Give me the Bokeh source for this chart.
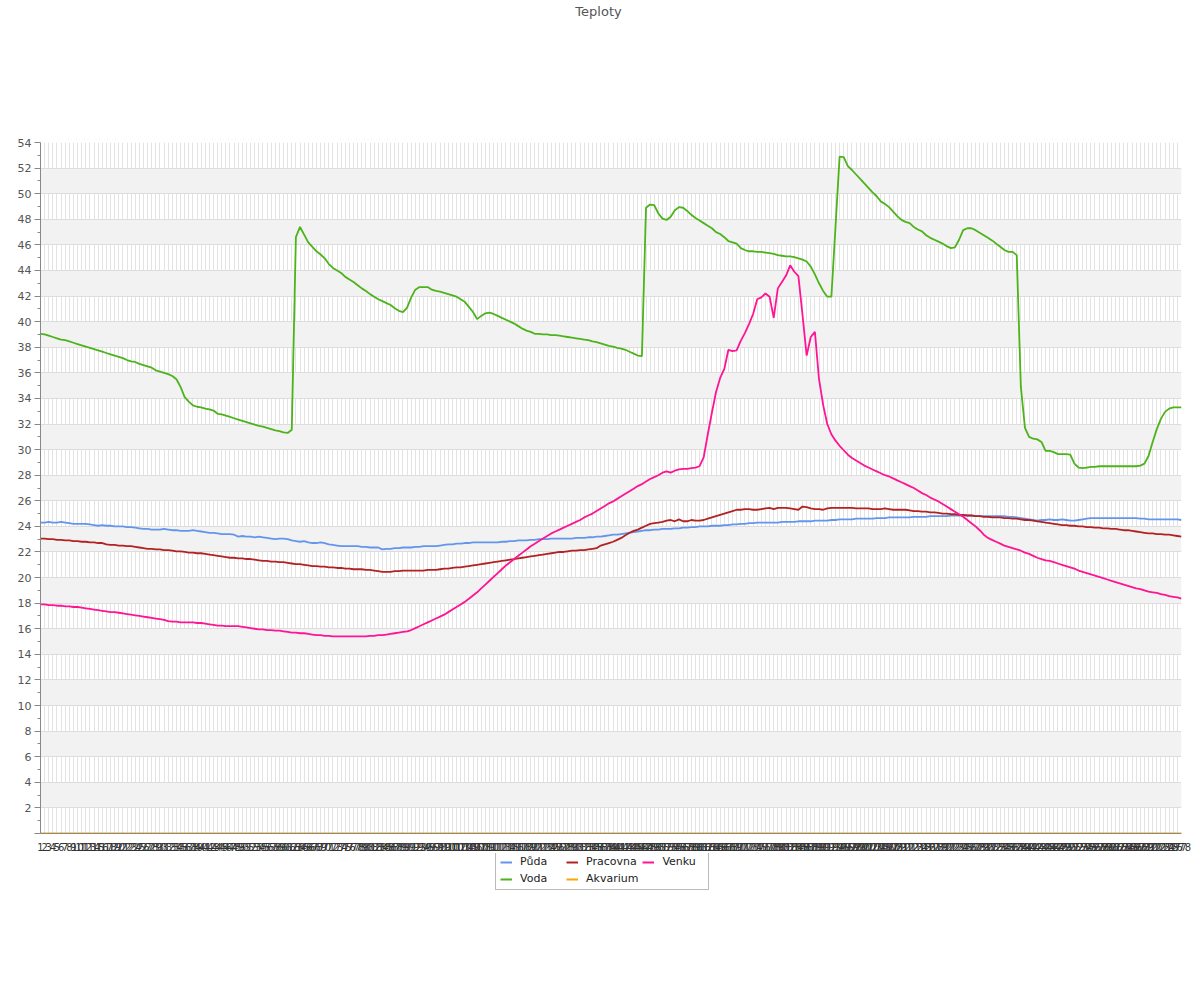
from bokeh.plotting import figure
from bokeh.layouts import column
from bokeh.models import Range1d, FixedTicker, Legend, LegendItem, Label
from bokeh.embed import file_html
from bokeh.resources import INLINE

labels = [str(i) for i in range(1, 279)]

puda = [
    24.3, 24.3, 24.35, 24.3, 24.3, 24.35, 24.3, 24.25, 24.2, 24.2,
    24.2, 24.2, 24.15, 24.1, 24.05, 24.1, 24.05, 24.05, 24.0, 24.0,
    24.0, 23.95, 23.95, 23.9, 23.85, 23.8, 23.8, 23.75, 23.75, 23.75,
    23.8, 23.75, 23.7, 23.7, 23.65, 23.65, 23.65, 23.7, 23.65, 23.6,
    23.55, 23.5, 23.5, 23.45, 23.4, 23.4, 23.4, 23.35, 23.2, 23.25,
    23.2, 23.2, 23.15, 23.2, 23.15, 23.1, 23.05, 23.0, 23.05, 23.05,
    23.0, 22.9, 22.85, 22.8, 22.85, 22.75, 22.7, 22.7, 22.75, 22.7,
    22.6, 22.55, 22.5, 22.45, 22.45, 22.45, 22.45, 22.45, 22.4, 22.4,
    22.35, 22.35, 22.35, 22.2, 22.25, 22.25, 22.3, 22.3, 22.35, 22.35,
    22.35, 22.4, 22.4, 22.45, 22.45, 22.45, 22.45, 22.5, 22.55, 22.6,
    22.6, 22.65, 22.65, 22.7, 22.7, 22.75, 22.75, 22.75, 22.75, 22.75,
    22.75, 22.75, 22.8, 22.8, 22.85, 22.85, 22.9, 22.9, 22.9, 22.95,
    22.95, 23.0, 23.0, 23.0, 23.05, 23.05, 23.05, 23.05, 23.05, 23.05,
    23.1, 23.1, 23.1, 23.15, 23.15, 23.2, 23.2, 23.25, 23.3, 23.35,
    23.35, 23.4, 23.45, 23.5, 23.55, 23.6, 23.65, 23.7, 23.7, 23.75,
    23.75, 23.8, 23.8, 23.8, 23.85, 23.85, 23.9, 23.9, 23.95, 23.95,
    24.0, 24.0, 24.0, 24.05, 24.05, 24.05, 24.1, 24.1, 24.15, 24.15,
    24.2, 24.2, 24.25, 24.25, 24.3, 24.3, 24.3, 24.3, 24.3, 24.3,
    24.35, 24.35, 24.35, 24.35, 24.4, 24.4, 24.4, 24.4, 24.45, 24.45,
    24.45, 24.45, 24.5, 24.5, 24.55, 24.55, 24.55, 24.55, 24.6, 24.6,
    24.6, 24.6, 24.6, 24.65, 24.65, 24.65, 24.7, 24.7, 24.7, 24.7,
    24.7, 24.7, 24.75, 24.75, 24.75, 24.75, 24.8, 24.8, 24.8, 24.8,
    24.8, 24.85, 24.85, 24.85, 24.85, 24.85, 24.85, 24.8, 24.8, 24.8,
    24.8, 24.8, 24.8, 24.8, 24.8, 24.75, 24.75, 24.7, 24.65, 24.6,
    24.55, 24.5, 24.45, 24.5, 24.5, 24.55, 24.5, 24.5, 24.55, 24.5,
    24.45, 24.45, 24.5, 24.55, 24.6, 24.65, 24.65, 24.65, 24.65, 24.65,
    24.65, 24.65, 24.65, 24.65, 24.65, 24.65, 24.65, 24.6, 24.6, 24.55,
    24.55, 24.55, 24.55, 24.55, 24.55, 24.55, 24.55, 24.5,
]

voda = [
    39.05, 39.0, 38.9, 38.8, 38.7, 38.6, 38.55, 38.45, 38.35, 38.25,
    38.15, 38.05, 37.95, 37.85, 37.75, 37.65, 37.55, 37.45, 37.35, 37.25,
    37.15, 37.0, 36.9, 36.85, 36.7, 36.6, 36.5, 36.4, 36.2, 36.1,
    36.0, 35.9, 35.75, 35.5, 34.9, 34.1, 33.75, 33.45, 33.35, 33.3,
    33.2, 33.15, 33.05, 32.8, 32.75, 32.65, 32.55, 32.45, 32.35, 32.25,
    32.15, 32.05, 31.95, 31.85, 31.8, 31.7, 31.6, 31.5, 31.45, 31.35,
    31.3, 31.55, 46.6, 47.4, 46.8, 46.2, 45.85, 45.5, 45.25, 44.95,
    44.5, 44.2, 44.0, 43.8, 43.5, 43.3, 43.1, 42.85, 42.6, 42.4,
    42.15, 41.95, 41.75, 41.6, 41.45, 41.3, 41.05, 40.85, 40.75, 41.1,
    41.9, 42.5, 42.7, 42.7, 42.7, 42.5, 42.4, 42.35, 42.25, 42.15,
    42.05, 41.95, 41.75, 41.55, 41.15, 40.75, 40.2, 40.45, 40.65, 40.7,
    40.6, 40.45, 40.3, 40.15, 40.0, 39.85, 39.65, 39.45, 39.3, 39.2,
    39.05, 39.05, 39.0, 39.0, 38.95, 38.95, 38.9, 38.85, 38.8, 38.75,
    38.7, 38.65, 38.6, 38.55, 38.45, 38.4, 38.3, 38.2, 38.1, 38.05,
    37.95, 37.9, 37.8, 37.65, 37.5, 37.35, 37.3, 48.9, 49.15, 49.1,
    48.45, 48.05, 47.95, 48.2, 48.7, 48.95, 48.9, 48.65, 48.35, 48.1,
    47.9, 47.7, 47.5, 47.3, 47.0, 46.85, 46.6, 46.3, 46.2, 46.1,
    45.75, 45.6, 45.5, 45.5, 45.45, 45.45, 45.4, 45.35, 45.3, 45.2,
    45.15, 45.1, 45.1, 45.05, 44.95, 44.85, 44.7, 44.3, 43.7, 43.0,
    42.4, 41.95, 41.95, 47.4, 52.9, 52.85, 52.15, 51.85, 51.5, 51.15,
    50.8, 50.45, 50.1, 49.8, 49.4, 49.2, 48.95, 48.6, 48.25, 47.95,
    47.8, 47.7, 47.4, 47.2, 47.05, 46.75, 46.55, 46.4, 46.25, 46.1,
    45.9, 45.75, 45.8, 46.4, 47.15, 47.3, 47.3, 47.15, 46.95, 46.75,
    46.55, 46.35, 46.1, 45.85, 45.6, 45.45, 45.45, 45.2, 34.9, 31.7,
    31.0, 30.85, 30.8, 30.6, 29.9, 29.9, 29.8, 29.65, 29.65, 29.65,
    29.6, 28.9, 28.6, 28.55, 28.6, 28.65, 28.65, 28.7, 28.7, 28.7,
    28.7, 28.7, 28.7, 28.7, 28.7, 28.7, 28.7, 28.75, 28.9, 29.5,
    30.6, 31.6, 32.4, 32.95, 33.2, 33.3, 33.3, 33.3,
]

pracovna = [
    23.05, 23.05, 23.0, 23.0, 22.95, 22.95, 22.9, 22.9, 22.85, 22.85,
    22.8, 22.8, 22.75, 22.75, 22.7, 22.7, 22.6, 22.55, 22.55, 22.5,
    22.5, 22.45, 22.45, 22.4, 22.35, 22.3, 22.25, 22.25, 22.2, 22.2,
    22.15, 22.15, 22.1, 22.05, 22.05, 22.0, 21.95, 21.95, 21.9, 21.9,
    21.85, 21.8, 21.75, 21.7, 21.65, 21.6, 21.55, 21.55, 21.5, 21.5,
    21.45, 21.45, 21.4, 21.35, 21.3, 21.3, 21.25, 21.25, 21.2, 21.2,
    21.15, 21.1, 21.05, 21.05, 21.0, 20.95, 20.9, 20.9, 20.85, 20.85,
    20.8, 20.8, 20.75, 20.75, 20.7, 20.7, 20.65, 20.65, 20.65, 20.6,
    20.6, 20.55, 20.5, 20.45, 20.45, 20.45, 20.5, 20.5, 20.55, 20.55,
    20.55, 20.55, 20.55, 20.55, 20.6, 20.6, 20.6, 20.65, 20.7, 20.7,
    20.75, 20.8, 20.8, 20.85, 20.9, 20.95, 21.0, 21.05, 21.1, 21.15,
    21.2, 21.25, 21.3, 21.35, 21.4, 21.45, 21.5, 21.55, 21.6, 21.65,
    21.7, 21.75, 21.8, 21.85, 21.9, 21.95, 22.0, 22.0, 22.05, 22.1,
    22.1, 22.15, 22.15, 22.2, 22.25, 22.3, 22.5, 22.6, 22.7, 22.8,
    22.95, 23.1, 23.3, 23.5, 23.65, 23.75, 23.9, 24.05, 24.2, 24.25,
    24.3, 24.35, 24.45, 24.5, 24.4, 24.55, 24.4, 24.4, 24.5, 24.45,
    24.45, 24.5, 24.6, 24.7, 24.8, 24.9, 25.0, 25.1, 25.2, 25.3,
    25.3, 25.35, 25.35, 25.3, 25.3, 25.35, 25.4, 25.45, 25.35, 25.45,
    25.45, 25.45, 25.4, 25.35, 25.3, 25.55, 25.5, 25.4, 25.35, 25.35,
    25.3, 25.4, 25.45, 25.45, 25.45, 25.45, 25.45, 25.45, 25.4, 25.4,
    25.4, 25.4, 25.35, 25.35, 25.35, 25.4, 25.35, 25.3, 25.3, 25.3,
    25.3, 25.25, 25.2, 25.2, 25.15, 25.15, 25.1, 25.1, 25.05, 25.0,
    25.0, 24.95, 24.95, 24.9, 24.9, 24.85, 24.85, 24.8, 24.8, 24.75,
    24.75, 24.7, 24.7, 24.7, 24.65, 24.65, 24.6, 24.6, 24.55, 24.5,
    24.5, 24.45, 24.4, 24.35, 24.3, 24.25, 24.2, 24.15, 24.1, 24.1,
    24.05, 24.05, 24.0, 24.0, 23.95, 23.95, 23.9, 23.9, 23.85, 23.85,
    23.8, 23.8, 23.75, 23.7, 23.7, 23.65, 23.6, 23.55, 23.5, 23.45,
    23.45, 23.4, 23.4, 23.35, 23.35, 23.3, 23.25, 23.2,
]

akvarium = [0.0] * 278

venku = [
    17.9, 17.9, 17.85, 17.85, 17.8, 17.8, 17.75, 17.75, 17.7, 17.7,
    17.65, 17.6, 17.55, 17.5, 17.45, 17.4, 17.35, 17.3, 17.3, 17.25,
    17.2, 17.15, 17.1, 17.05, 17.0, 16.95, 16.9, 16.85, 16.8, 16.75,
    16.7, 16.6, 16.55, 16.55, 16.5, 16.5, 16.5, 16.5, 16.45, 16.45,
    16.4, 16.35, 16.3, 16.25, 16.25, 16.2, 16.2, 16.2, 16.2, 16.15,
    16.1, 16.05, 16.0, 15.95, 15.95, 15.9, 15.9, 15.85, 15.85, 15.8,
    15.75, 15.7, 15.7, 15.65, 15.65, 15.6, 15.55, 15.5, 15.5, 15.45,
    15.45, 15.4, 15.4, 15.4, 15.4, 15.4, 15.4, 15.4, 15.4, 15.4,
    15.45, 15.45, 15.5, 15.5, 15.55, 15.6, 15.65, 15.7, 15.75, 15.8,
    15.9, 16.05, 16.2, 16.35, 16.5, 16.65, 16.8, 16.95, 17.1, 17.3,
    17.5, 17.7, 17.9, 18.1, 18.35, 18.6, 18.85, 19.15, 19.45, 19.75,
    20.05, 20.35, 20.65, 20.95, 21.2, 21.45, 21.7, 21.95, 22.2, 22.45,
    22.65, 22.85, 23.05, 23.25, 23.45, 23.6, 23.75, 23.9, 24.05, 24.2,
    24.35, 24.5, 24.7, 24.85, 25.0, 25.2, 25.4, 25.6, 25.8, 25.95,
    26.15, 26.35, 26.55, 26.75, 26.95, 27.15, 27.3, 27.5, 27.7, 27.85,
    28.0, 28.2, 28.3, 28.2, 28.35, 28.45, 28.5, 28.5, 28.55, 28.6,
    28.7, 29.4, 31.2, 32.9, 34.5, 35.6, 36.3, 37.8, 37.7, 37.75,
    38.5, 39.1, 39.8, 40.6, 41.75, 41.9, 42.2, 41.95, 40.3, 42.6,
    43.1, 43.6, 44.4, 43.9, 43.55, 40.5, 37.35, 38.8, 39.2, 35.5,
    33.5, 32.0, 31.2, 30.7, 30.3, 29.95, 29.6, 29.35, 29.15, 28.95,
    28.75, 28.6, 28.45, 28.3, 28.15, 28.0, 27.9, 27.75, 27.6, 27.45,
    27.3, 27.15, 27.0, 26.8, 26.6, 26.45, 26.25, 26.1, 25.95, 25.75,
    25.55, 25.35, 25.15, 24.95, 24.75, 24.5, 24.25, 24.0, 23.7, 23.35,
    23.1, 22.95, 22.8, 22.65, 22.5, 22.4, 22.3, 22.2, 22.1, 21.95,
    21.85, 21.7, 21.55, 21.45, 21.35, 21.3, 21.2, 21.1, 21.0, 20.9,
    20.8, 20.7, 20.55, 20.45, 20.35, 20.25, 20.15, 20.05, 19.95, 19.85,
    19.75, 19.65, 19.55, 19.45, 19.35, 19.25, 19.15, 19.1, 19.0, 18.9,
    18.85, 18.8, 18.7, 18.65, 18.55, 18.5, 18.45, 18.35,
]

title_text = "Teploty"
series_names = ["Půda", "Voda", "Pracovna", "Akvarium", "Venku"]
series_values = [puda, voda, pracovna, akvarium, venku]
series_colors = ["#6495ed", "#4cb31a", "#b22222", "#ffa500", "#ff1493"]

y_ticks = list(range(0, 56, 2))
y_minor = list(range(1, 54, 2))

x = list(range(len(labels)))

FONT = "DejaVu Sans"

# ---- title strip (frame is aligned with the chart frame, starting at x=40) ----
tf = figure(width=1200, height=24, output_backend="svg", toolbar_location=None,
            x_range=Range1d(0, 1), y_range=Range1d(0, 1),
            x_axis_location=None, y_axis_location=None,
            min_border=0, border_fill_color="white")
tf.outline_line_color = None
tf.grid.visible = False
tf.add_layout(Label(x=558, y=13, x_units="screen", y_units="screen",
                    text=title_text, text_align="center", text_baseline="middle",
                    text_font=FONT, text_font_size="13px", text_color="#555555"))

# ---- main chart ----
p = figure(frame_width=1141, frame_height=691, output_backend="svg",
           toolbar_location=None,
           x_range=Range1d(0, len(labels) - 1), y_range=Range1d(0, 54),
           min_border_left=40, min_border_right=19, min_border_top=118,
           min_border_bottom=18, background_fill_color="white",
           border_fill_color="white")
p.outline_line_color = None

p.xaxis.ticker = FixedTicker(ticks=x)
p.xaxis.major_label_overrides = {i: labels[i] for i in x}
p.xaxis.major_label_text_font = FONT
p.xaxis.major_label_text_font_size = "10px"
p.xaxis.major_label_text_color = "#333333"
p.xaxis.major_tick_line_color = None
p.xaxis.minor_tick_line_color = None
p.xaxis.major_label_standoff = 3
p.xaxis.axis_line_color = "#888888"

p.yaxis.ticker = FixedTicker(ticks=y_ticks, minor_ticks=y_minor)
p.yaxis.major_label_overrides = {0: ""}
p.yaxis.major_label_text_font = FONT
p.yaxis.major_label_text_font_size = "11px"
p.yaxis.major_label_text_color = "#555555"
p.yaxis.axis_line_color = "#888888"
p.yaxis.major_tick_line_color = "#888888"
p.yaxis.minor_tick_line_color = "#888888"
p.yaxis.major_tick_out = 6
p.yaxis.major_tick_in = 0
p.yaxis.minor_tick_out = 3
p.yaxis.minor_tick_in = 0
p.yaxis.major_label_standoff = 3

p.xgrid.ticker = FixedTicker(ticks=x)
p.xgrid.grid_line_color = "#e3e3e3"
p.xgrid.grid_line_width = 1
p.ygrid.ticker = FixedTicker(ticks=y_ticks)
p.ygrid.grid_line_color = "#dddddd"
p.ygrid.grid_line_width = 1
p.ygrid.band_fill_color = "#f2f2f2"
p.ygrid.band_fill_alpha = 1.0

for vals, col in zip(series_values, series_colors):
    p.line(x, vals, line_color=col, line_width=1.8)

# ---- legend strip: same series drawn out of view, only the legend shows ----
lf = figure(width=1200, height=60, output_backend="svg", toolbar_location=None,
            x_range=Range1d(0, 1), y_range=Range1d(100, 101),
            x_axis_location=None, y_axis_location=None,
            min_border=0, border_fill_color="white")
lf.outline_line_color = None
lf.grid.visible = False
items = []
for name, vals, col in zip(series_names, series_values, series_colors):
    r = lf.line(x, vals, line_color=col, line_width=2)
    items.append(LegendItem(label=name, renderers=[r]))

legend = Legend(items=items, location=(455, 23), orientation="vertical", nrows=2)
legend.label_text_font = FONT
legend.label_text_font_size = "11px"
legend.label_text_color = "#222222"
legend.glyph_width = 12
legend.glyph_height = 12
legend.label_height = 12
legend.label_width = 42
legend.label_standoff = 8
legend.spacing = 4
legend.padding = 4
legend.margin = 0
legend.border_line_color = "#777777"
legend.border_line_width = 1
legend.background_fill_color = "white"
legend.background_fill_alpha = 1.0
lf.add_layout(legend, "center")

layout = column(tf, p, lf, spacing=0)

open("out.html", "w").write(file_html(layout, INLINE))
